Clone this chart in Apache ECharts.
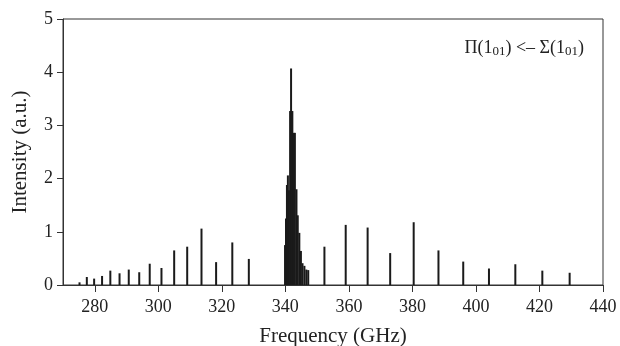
<!DOCTYPE html>
<html>
<head>
<meta charset="utf-8">
<script src="https://cdn.jsdelivr.net/npm/echarts@6/dist/echarts.min.js"></script>
<style>html,body{margin:0;padding:0;background:#fff}#c{width:620px;height:346px}</style>
</head>
<body>
<div id="c"></div>
<script>
// Line frequencies (GHz) and intensities (a.u.)
const frequencies = [
  275.2, 277.5, 279.8, 282.3, 284.9, 287.8, 290.7, 294.0, 297.3, 301.0,
  305.0, 309.1, 313.6, 318.2, 323.3, 328.5,
  339.9, 340.2, 340.5, 340.8, 341.1, 341.5, 341.8, 342.2, 342.6, 343.0,
  343.5, 343.9, 344.4, 344.9, 345.4, 346.0, 346.6, 347.2,
  352.3, 359.0, 365.9, 373.0, 380.4, 388.2, 396.0, 404.1, 412.4, 420.9, 429.5
];
const intensities = [
  0.05, 0.15, 0.12, 0.17, 0.27, 0.22, 0.29, 0.24, 0.40, 0.32,
  0.65, 0.72, 1.06, 0.43, 0.80, 0.49,
  0.75, 1.25, 1.88, 2.06, 1.78, 3.27, 4.07, 3.27, 2.86, 2.86,
  1.80, 1.31, 0.98, 0.64, 0.41, 0.36, 0.29, 0.28,
  0.72, 1.13, 1.08, 0.60, 1.18, 0.65, 0.44, 0.31, 0.39, 0.27, 0.23
];
const xTicks = [280, 300, 320, 340, 360, 380, 400, 420, 440];
const yTicks = [0, 1, 2, 3, 4, 5];
const xTitle = 'Frequency (GHz)';
const yTitle = 'Intensity (a.u.)';

const data = frequencies.map((f, i) => [f, intensities[i]]);
const font = 'Liberation Serif';
const chart = echarts.init(document.getElementById('c'));
chart.setOption({
  animation: false,
  grid: {left: 63, right: 17, top: 19, bottom: 61, show: true, borderColor: '#333', borderWidth: 1,
    containLabel: false, outerBoundsMode: 'none'},
  xAxis: {
    type: 'value', min: 270, max: 440,
    name: xTitle, nameLocation: 'middle', nameGap: 41,
    nameTextStyle: {fontFamily: font, fontSize: 21, color: '#222'},
    axisLine: {show: true, onZero: false, lineStyle: {color: '#333', width: 1}},
    axisTick: {show: true, length: 7, customValues: xTicks, lineStyle: {color: '#333'}},
    axisLabel: {customValues: xTicks, fontFamily: font, fontSize: 18, color: '#222', margin: 13},
    splitLine: {show: false}
  },
  yAxis: {
    type: 'value', min: 0, max: 5, interval: 1,
    name: yTitle, nameLocation: 'middle', nameGap: 32,
    nameTextStyle: {fontFamily: font, fontSize: 21, color: '#222'},
    axisLine: {show: true, lineStyle: {color: '#333', width: 1}},
    axisTick: {show: true, length: 6, lineStyle: {color: '#333'}},
    axisLabel: {fontFamily: font, fontSize: 18, color: '#222', margin: 10,
      formatter: v => yTicks.includes(v) ? String(v) : ''},
    splitLine: {show: false}
  },
  series: [{
    type: 'bar', data: data, barWidth: 2, barGap: '-100%',
    itemStyle: {color: '#1a1a1a'}
  }],
  graphic: [{
    type: 'text', right: 36, top: 39,
    style: {
      text: '{n|Π(1}{s|01}{n|) <– Σ(1}{s|01}{n|)}',
      rich: {
        n: {fontFamily: font, fontSize: 18, fill: '#222'},
        s: {fontFamily: font, fontSize: 13, fill: '#222', verticalAlign: 'bottom', padding: [7, 0, 0, 0]}
      }
    }
  }]
});
</script>
</body>
</html>
